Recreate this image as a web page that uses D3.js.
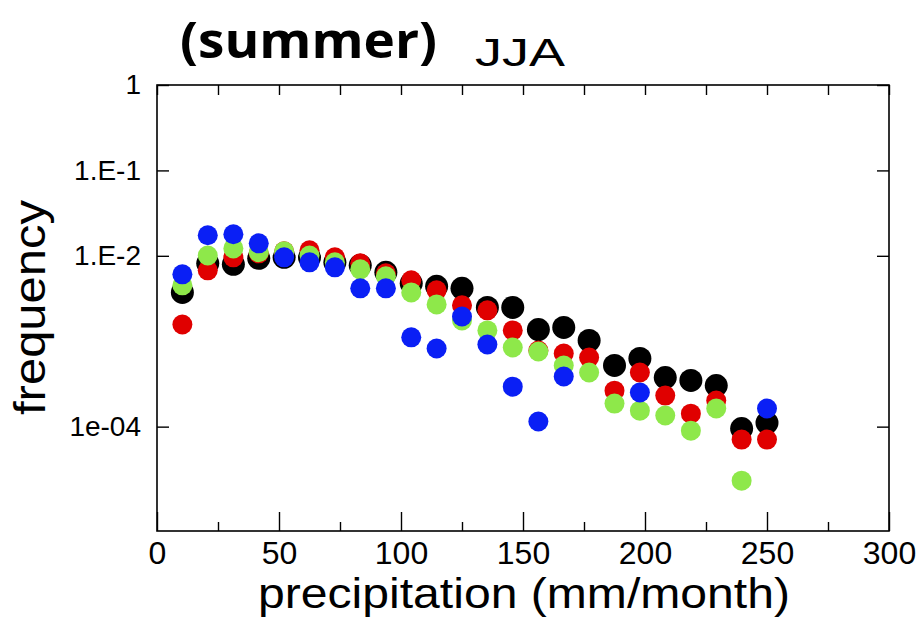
<!DOCTYPE html>
<html>
<head>
<meta charset="utf-8">
<script src="https://cdn.jsdelivr.net/npm/d3@7"></script>
<style>
body { margin: 0; background: #fff; }
svg { display: block; }
</style>
</head>
<body>
<svg id="chart" width="920" height="619"></svg>
<script>
// ---- data ----
const precip = [10.4, 20.8, 31.3, 41.7, 52.1, 62.5, 72.9, 83.3, 93.8, 104.2, 114.6, 125,
                135.4, 145.8, 156.3, 166.7, 177.1, 187.5, 197.9, 208.3, 218.8, 229.2, 239.6, 250];
const blackSeries = [3.73e-3, 8.17e-3, 7.95e-3, 9.35e-3, 9.6e-3, 9.6e-3, 8.39e-3, 7.74e-3, 6.4e-3, 4.76e-3, 4.39e-3, 4.16e-3,
                     2.49e-3, 2.49e-3, 1.37e-3, 1.45e-3, 1.02e-3, 5.2e-4, 6.28e-4, 3.76e-4, 3.47e-4, 3.03e-4, 9.5e-5, 1.11e-4];
const redSeries = [1.57e-3, 6.76e-3, 9.6e-3, 1.07e-2, 1.13e-2, 1.16e-2, 9.6e-3, 8.17e-3, 6.23e-3, 5.16e-3, 3.94e-3, 2.63e-3,
                   2.30e-3, 1.34e-3, 7.8e-4, 7.18e-4, 6.45e-4, 2.64e-4, 4.3e-4, 2.31e-4, 1.42e-4, 2.02e-4, 7.05e-5, 7.05e-5];
const greenSeries = [4.51e-3, 1.01e-2, 1.22e-2, 1.10e-2, 1.13e-2, 1.01e-2, 8.39e-3, 6.95e-3, 5.75e-3, 3.73e-3, 2.70e-3, 1.75e-3,
                     1.34e-3, 8.45e-4, 7.58e-4, 5.2e-4, 4.3e-4, 1.86e-4, 1.54e-4, 1.35e-4, 8.98e-5, 1.63e-4, 2.33e-5, null];
const blueSeries = [6.07e-3, 1.74e-2, 1.79e-2, 1.40e-2, 9.6e-3, 8.39e-3, 7.33e-3, 4.16e-3, 4.16e-3, 1.11e-3, 8.22e-4, 1.95e-3,
                    9.16e-4, 2.94e-4, 1.15e-4, 3.86e-4, null, null, 2.51e-4, null, null, null, null, 1.63e-4];
const xTicks = [0, 50, 100, 150, 200, 250, 300];
const xMinorTicks = [25, 75, 125, 175, 225, 275];
const yTicks = [1, 0.1, 0.01, 1e-4];
const yTickLabels = ["1", "1.E-1", "1.E-2", "1e-04"];

// ---- layout ----
const svg = d3.select("#chart");
const L = 157, R = 889, T = 85, B = 531;
const x = d3.scaleLinear().domain([0, 300]).range([L, R]);
const y = d3.scaleLog().domain([6.0e-6, 1]).range([B, T]);
const FONT = "Liberation Sans, Arial, sans-serif";

const seriesList = [
  { vals: blackSeries, color: "#000000", r: 11.5 },
  { vals: redSeries, color: "#e00000", r: 10 },
  { vals: greenSeries, color: "#8ee84a", r: 10 },
  { vals: blueSeries, color: "#0a1ff5", r: 10 }
];

// points
seriesList.forEach(s => {
  const pts = precip.map((p, i) => ({ p, v: s.vals[i] })).filter(d => d.v != null);
  svg.append("g").selectAll("circle").data(pts).join("circle")
    .attr("cx", d => x(d.p))
    .attr("cy", d => y(d.v))
    .attr("r", s.r)
    .attr("fill", s.color);
});

// frame
svg.append("rect").attr("x", L).attr("y", T).attr("width", R - L).attr("height", B - T)
  .attr("fill", "none").attr("stroke", "#000").attr("stroke-width", 1.6);

// bottom axis (ticks inward)
const bottom = svg.append("g").attr("transform", `translate(0,${B})`)
  .call(d3.axisBottom(x).tickValues(xTicks).tickSize(-19).tickPadding(10).tickFormat(d3.format("d")));
bottom.select(".domain").remove();
bottom.selectAll(".tick line").attr("stroke-width", 1.4);
bottom.selectAll("text").attr("font-family", FONT).attr("font-size", 32).attr("fill", "#000");
svg.append("g").attr("transform", `translate(0,${B})`)
  .call(d3.axisBottom(x).tickValues(xMinorTicks).tickSize(-9).tickFormat(""))
  .call(g => g.select(".domain").remove())
  .selectAll(".tick line").attr("stroke-width", 1.4);

// top axis ticks
svg.append("g").attr("transform", `translate(0,${T})`)
  .call(d3.axisTop(x).tickValues(xTicks.concat(xMinorTicks)).tickSize(-10).tickFormat(""))
  .call(g => g.select(".domain").remove())
  .selectAll(".tick line").attr("stroke-width", 1.4);

// left axis
const left = svg.append("g").attr("transform", `translate(${L},0)`)
  .call(d3.axisLeft(y).tickValues(yTicks).tickSize(-12).tickPadding(16)
    .tickFormat((d, i) => yTickLabels[i]));
left.select(".domain").remove();
left.selectAll(".tick line").attr("stroke-width", 1.4);
left.selectAll("text").attr("font-family", FONT).attr("font-size", 28).attr("fill", "#000");

// right axis ticks
svg.append("g").attr("transform", `translate(${R},0)`)
  .call(d3.axisRight(y).tickValues(yTicks).tickSize(-12).tickFormat(""))
  .call(g => g.select(".domain").remove())
  .selectAll(".tick line").attr("stroke-width", 1.4);

// axis titles
svg.append("text").attr("x", 258).attr("y", 608)
  .attr("font-family", FONT).attr("font-size", 42).attr("fill", "#000")
  .attr("textLength", 532).attr("lengthAdjust", "spacingAndGlyphs")
  .text("precipitation (mm/month)");

svg.append("text").attr("transform", "translate(45,415) rotate(-90)")
  .attr("font-family", FONT).attr("font-size", 44).attr("fill", "#000")
  .attr("textLength", 215).attr("lengthAdjust", "spacingAndGlyphs")
  .text("frequency");

// titles
svg.append("text").attr("x", 180).attr("y", 58)
  .attr("font-family", "Open Sans, Liberation Sans, sans-serif").attr("font-weight", "bold")
  .attr("font-size", 50).attr("fill", "#000")
  .attr("textLength", 257).attr("lengthAdjust", "spacingAndGlyphs")
  .text("(summer)");
svg.append("text").attr("x", 475).attr("y", 66)
  .attr("font-family", FONT).attr("font-size", 38).attr("fill", "#000")
  .attr("textLength", 90).attr("lengthAdjust", "spacingAndGlyphs")
  .text("JJA");
</script>
</body>
</html>
